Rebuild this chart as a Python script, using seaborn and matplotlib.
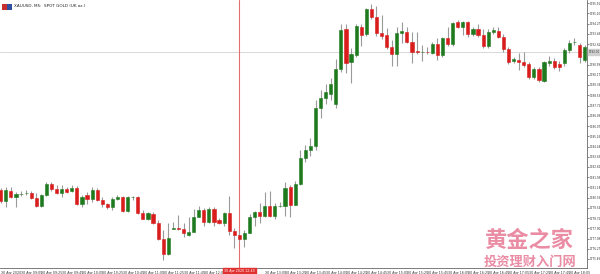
import numpy as np
import pandas as pd
import matplotlib
matplotlib.use("Agg")
import matplotlib.pyplot as plt
from matplotlib.patches import Rectangle
import seaborn as sns

# ---- data (XAUUSD M5 candles) ----
opens = [1780.97,1780.09,1780.89,1780.39,1780.63,1780.70,1780.75,1780.35,1779.69,1780.55,
         1781.45,1781.03,1780.71,1781.07,1780.91,1781.13,1779.83,1780.55,1780.27,1780.97,
         1780.17,1779.83,1779.59,1780.25,1780.39,1779.27,1780.39,1780.39,1779.16,1778.68,
         1779.05,1778.36,1777.08,1775.83,1777.87,1777.96,1777.83,1777.37,1777.64,1778.84,
         1779.37,1778.39,1779.47,1778.57,1778.36,1779.16,1777.72,1777.35,1777.03,1777.56,
         1778.84,1779.24,1778.89,1779.69,1778.89,1779.69,1779.69,1781.23,1779.79,1781.45,
         1783.53,1784.16,1784.48,1787.52,1788.32,1788.64,1787.84,1790.64,1793.81,1791.22,
         1791.76,1794.02,1793.41,1795.41,1794.77,1793.49,1793.33,1792.37,1791.84,1793.49,
         1793.59,1792.82,1792.05,1791.99,1792.03,1791.94,1792.61,1791.76,1793.09,1792.66,
         1794.39,1794.02,1794.37,1793.41,1793.81,1793.38,1792.47,1793.59,1793.70,1793.22,
         1792.26,1791.25,1791.36,1791.22,1791.01,1789.97,1790.66,1789.70,1791.14,1791.30,
         1791.04,1791.09,1792.16,1792.76,1792.55,1791.36]
highs = [1781.13,1781.18,1781.18,1780.83,1780.91,1780.97,1780.89,1780.71,1780.65,1781.61,
         1781.63,1781.37,1781.37,1781.21,1781.37,1781.29,1780.57,1780.83,1781.23,1781.13,
         1780.39,1779.93,1780.43,1780.57,1780.49,1780.49,1780.49,1780.49,1779.37,1779.24,
         1779.24,1778.57,1777.77,1778.31,1778.44,1778.97,1778.31,1778.84,1779.43,1779.69,
         1779.51,1779.64,1779.64,1778.73,1779.24,1780.49,1777.91,1777.72,1777.77,1779.05,
         1779.32,1779.95,1780.83,1780.91,1779.95,1780.03,1781.63,1781.37,1781.69,1784.16,
         1784.56,1785.12,1788.16,1788.96,1789.44,1789.92,1791.41,1794.23,1794.23,1792.29,
         1794.23,1794.23,1795.51,1795.83,1795.67,1794.93,1793.89,1792.95,1794.02,1794.37,
         1794.02,1793.62,1793.62,1792.55,1792.37,1792.82,1793.09,1793.20,1794.02,1794.42,
         1794.55,1794.50,1794.50,1794.02,1794.23,1793.81,1793.81,1794.02,1794.02,1793.40,
         1792.40,1791.62,1791.89,1791.97,1791.20,1790.80,1790.80,1791.30,1791.68,1791.50,
         1791.30,1792.30,1792.95,1793.09,1792.69,1792.55]
lows = [1779.93,1779.59,1780.33,1779.59,1780.49,1780.57,1780.25,1779.59,1779.61,1780.49,
        1780.89,1780.65,1780.43,1780.73,1780.81,1779.77,1779.59,1779.83,1780.03,1780.09,
        1779.64,1779.45,1779.37,1780.17,1779.21,1779.24,1780.17,1779.09,1778.63,1778.57,
        1778.25,1776.97,1775.38,1775.78,1777.83,1777.77,1777.24,1777.29,1777.61,1778.81,
        1778.09,1778.33,1778.09,1778.25,1778.09,1777.37,1776.31,1776.89,1776.44,1777.53,
        1778.09,1778.31,1778.84,1778.81,1778.63,1779.61,1778.89,1778.84,1779.77,1781.37,
        1783.21,1783.69,1784.16,1786.72,1787.84,1788.16,1787.52,1790.40,1790.34,1789.49,
        1791.60,1792.47,1793.30,1794.60,1793.30,1793.01,1792.20,1790.88,1790.88,1792.74,
        1792.70,1791.14,1791.80,1791.30,1791.80,1791.80,1791.36,1791.60,1792.50,1792.50,
        1793.90,1793.35,1793.22,1793.30,1793.20,1792.30,1792.30,1793.40,1793.10,1792.00,
        1791.00,1791.10,1790.56,1790.80,1789.80,1789.80,1789.60,1789.60,1790.90,1790.60,
        1790.50,1790.90,1791.89,1792.55,1791.09,1791.22]
closes = [1780.09,1780.97,1780.39,1780.65,1780.67,1780.72,1780.35,1779.69,1780.55,1781.45,
          1781.03,1780.71,1781.03,1780.83,1781.13,1779.83,1780.43,1780.27,1780.97,1780.17,
          1779.85,1779.59,1780.25,1780.39,1779.27,1780.39,1780.41,1779.16,1778.68,1779.11,
          1778.31,1777.03,1775.86,1777.11,1777.93,1777.85,1777.51,1777.59,1778.84,1779.37,
          1778.39,1779.43,1778.39,1778.36,1779.11,1777.72,1777.37,1777.03,1777.56,1778.79,
          1779.19,1778.89,1779.69,1778.89,1779.69,1779.71,1781.10,1779.79,1781.45,1783.53,
          1784.16,1784.48,1787.52,1788.32,1788.80,1789.44,1790.61,1793.75,1791.14,1791.81,
          1794.07,1793.38,1795.41,1794.77,1793.49,1793.30,1792.37,1791.84,1793.49,1793.65,
          1792.82,1792.02,1791.99,1792.03,1791.97,1792.61,1791.76,1793.09,1792.66,1794.34,
          1794.02,1794.39,1793.41,1793.81,1793.33,1792.47,1793.62,1793.75,1793.22,1792.21,
          1791.22,1791.41,1791.17,1790.96,1789.97,1790.66,1789.76,1791.17,1791.28,1790.82,
          1790.82,1792.16,1792.69,1792.82,1791.57,1792.42]

price_ticks = [1795.91,1795.10,1794.27,1793.46,1792.62,1791.81,1790.99,1790.17,1789.36,
               1788.53,1787.71,1786.89,1786.07,1785.26,1784.44,1783.63,1782.81,1781.99,
               1781.18,1780.36,1779.54,1778.72,1777.90,1777.09,1776.27,1775.46]
time_labels = ["30 Apr 2020"] + ["30 Apr %02d:%02d" % divmod(8 * 60 + 45 + 20 * k, 60)
                                 for k in range(1, 29)]
cross_idx = 47
cross_label = "30 Apr 2020 12:40"
bid_price = 1792.00
title = "XAUUSD, M5:  SPOT GOLD (UK oz.)"

df = pd.DataFrame({"open": opens, "high": highs, "low": lows, "close": closes})
df["idx"] = np.arange(len(df))
df["up"] = df["close"] >= df["open"]

sns.set_theme(style="white")
SMALL = ["Liberation Sans Narrow", "DejaVu Sans"]
plt.rcParams["font.family"] = SMALL

fig = plt.figure(figsize=(6.0, 2.74), dpi=100)
ax = fig.add_axes([0.0, 0.0219, 0.9783, 0.9781])

GREEN = "#1f7a1f"
RED = "#d91c1c"

ax.vlines(df["idx"], df["low"], df["high"], color="#9a9a9a", lw=0.8, zorder=2)
body_bottom = np.minimum(df["open"], df["close"])
body_h = np.maximum(np.abs(df["close"] - df["open"]), 0.04)
colors = np.where(df["up"], GREEN, RED)
ax.bar(df["idx"], body_h, bottom=body_bottom, width=0.62, color=colors,
       edgecolor=colors, linewidth=0.4, zorder=3)

# bid line and crosshair
ax.axhline(bid_price, color="#d8d8d8", lw=0.7, zorder=1)
ax.axvline(cross_idx, color="#e07070", lw=0.8, zorder=1)

ax.set_xlim(-0.138, 115.46)
ax.set_ylim(1774.74, 1796.15)

ax.yaxis.tick_right()
ax.set_yticks(price_ticks)
ax.set_yticklabels(["%.2f" % v for v in price_ticks], fontsize=2.0, color="#333333")
tick_pos = list(range(0, 116, 4))[:len(time_labels)]
# labels hidden beneath the crosshair time box
shown = [lab if abs(p - cross_idx) > 3 else "" for p, lab in zip(tick_pos, time_labels)]
ax.set_xticks(tick_pos)
ax.set_xticklabels(shown, fontsize=2.3, color="#333333", ha="left")
ax.tick_params(axis="y", length=1.5, width=0.5, pad=0.4, colors="#555555", labelcolor="#333333")
ax.tick_params(axis="x", length=1.5, width=0.5, pad=0.6, colors="#555555", labelcolor="#333333")
for lab in ax.get_xticklabels():
    lab.set_horizontalalignment("left")

for s in ["left", "top"]:
    ax.spines[s].set_visible(False)
for s in ["right", "bottom"]:
    ax.spines[s].set_color("#666666")
    ax.spines[s].set_linewidth(0.6)

# crosshair time label
ax.text(cross_idx, -0.004, cross_label, transform=ax.get_xaxis_transform(), ha="center",
        va="top", fontsize=2.3, color="white", zorder=10, clip_on=False,
        bbox=dict(boxstyle="square,pad=0.35", fc="#e03030", ec="#e03030"))
# bid label
ax.text(1.003, bid_price, "%.2f" % bid_price, transform=ax.get_yaxis_transform(), ha="left",
        va="center", fontsize=2.0, color="#333333", zorder=10, clip_on=False,
        bbox=dict(boxstyle="square,pad=0.2", fc="#d0d0d0", ec="#d0d0d0"))

# header icon and title
fig.patches.append(Rectangle((0.004, 0.962), 0.008, 0.022, transform=fig.transFigure,
                             fc="#c83030", ec="none"))
fig.patches.append(Rectangle((0.012, 0.962), 0.008, 0.022, transform=fig.transFigure,
                             fc="#3050a0", ec="none"))
fig.text(0.023, 0.984, title, fontsize=3.0, color="#222222", va="top", ha="left")

# watermark
fig.text(0.883, 0.08, "黄金之家", fontsize=16, color="#e8809a", ha="center", va="bottom",
         family=["Noto Sans CJK SC", "DejaVu Sans"], fontweight="bold", alpha=0.9)
fig.text(0.883, 0.018, "投资理财入门网", fontsize=9.5, color="#e8809a", ha="center",
         va="bottom", family=["Noto Sans CJK SC", "DejaVu Sans"], fontweight="bold", alpha=0.9)

fig.savefig("out.png", dpi=100, facecolor="white")
